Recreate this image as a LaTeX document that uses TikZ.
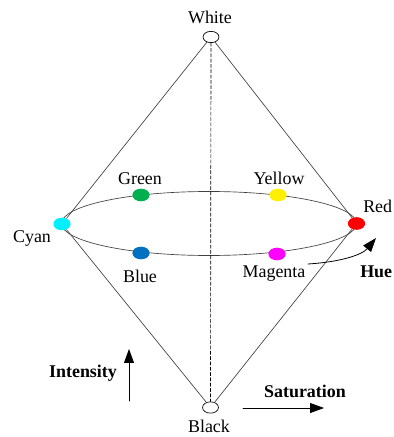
\documentclass[tikz,border=0pt]{standalone}
\usepackage{fontspec}
\setmainfont{Liberation Serif}
\usepackage{tikz}
\usetikzlibrary{arrows.meta,shapes.geometric}

\begin{document}
\begin{tikzpicture}[x=0.02646cm,y=-0.02646cm,>={Triangle[length=10.5pt,width=7.5pt]},
    line cap=round,line join=round,
    font=\fontsize{13.5}{16}\selectfont,
    edge/.style={line width=.5pt,black!75},
    pointer/.style={->,line width=.6pt,black},
    hidden/.style={dashed,dash pattern=on 2.5pt off 1.5pt,line width=.5pt},
    pole/.style={ellipse,draw,line width=.5pt,fill=white,inner sep=0pt,
      minimum width=12pt,minimum height=8.5pt},
    hue/.style={ellipse,inner sep=0pt,minimum width=13pt,minimum height=9.5pt},
    axis/.style={font=\fontsize{13.5}{16}\selectfont\bfseries}]
    \clip (0,0) rectangle (394,437);
    \useasboundingbox (0,0) rectangle (394,437);

    % The two poles and the colour wheel.
    \node[pole] (white) at (211,37) {};
    \node[pole] (black) at (210.5,407.5) {};
    \coordinate (mid) at (209,223.5);
    \draw[edge] (mid) ellipse (147.5 and 32);
    \draw[hidden] (white) -- (black);

    \node[hue,fill={rgb,255:red,0;green,240;blue,255}] (cyan) at (62,224) {};
    \node[hue,fill={rgb,255:red,255;green,0;blue,0}] (red) at (356.5,223.5) {};
    \node[hue,fill={rgb,255:red,0;green,176;blue,80}] (green) at (141,195) {};
    \node[hue,fill={rgb,255:red,255;green,240;blue,0}] (yellow) at (278,195) {};
    \node[hue,fill={rgb,255:red,0;green,112;blue,192}] (blue) at (141,253) {};
    \node[hue,fill={rgb,255:red,255;green,0;blue,255}] (magenta) at (277,254) {};

    % The double cone.
    \draw[edge] (white) -- (cyan) -- (black);
    \draw[edge] (white) -- (red) -- (black);

    % Labels.
    \node (lwhite) at (210,17) {White};
    \node[inner sep=1pt] (lblack) at (209,426) {Black};
    \node (lgreen) at (140,179) {Green};
    \node (lyellow) at (279,178) {Yellow};
    \node (lcyan) at (32,238) {Cyan};
    \node (lblue) at (140,276) {Blue};
    \node (lmagenta) at (274,274) {Magenta};
    \node[anchor=west,inner sep=0pt] (lred) at (363,206) {Red};

    % Hue, intensity and saturation arrows.
    \coordinate (h0) at (308,264);
    \coordinate (h1) at (376,238);
    \draw[pointer] (h0) .. controls (340,262) and (362,255) .. (h1);
    \node[axis,anchor=west,inner sep=0pt] (lhue) at (360,272) {Hue};

    \coordinate (i0) at (129,401);
    \coordinate (i1) at (129,349);
    \draw[pointer] (i0) -- (i1);
    \node[axis] (lint) at (83,373) {Intensity};

    \coordinate (s0) at (243,408);
    \coordinate (s1) at (324,408);
    \draw[pointer] (s0) -- (s1);
    \node[axis] (lsat) at (305,391) {Saturation};
  \end{tikzpicture}
\end{document}
